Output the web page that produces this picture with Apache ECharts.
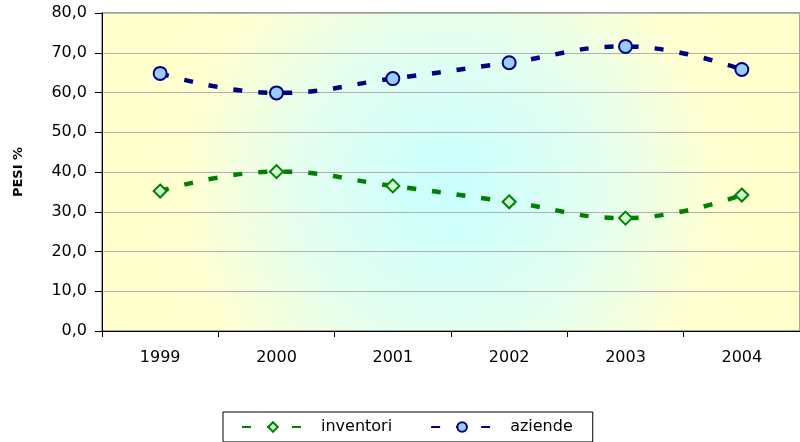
<!DOCTYPE html>
<html>
<head>
<meta charset="utf-8">
<script src="https://cdn.jsdelivr.net/npm/echarts@6/dist/echarts.min.js"></script>
<style>
    html, body { margin: 0; padding: 0; background: #fff; }
    #chart { width: 800px; height: 442px; }
</style>
</head>
<body>
<div id="chart"></div>
<script>
    // anni sull'asse x
    const years = ['1999', '2000', '2001', '2002', '2003', '2004'];
    // pesi percentuali
    const inventori = [35.2, 40.1, 36.5, 32.5, 28.4, 34.2];
    const aziende = [64.8, 59.9, 63.5, 67.5, 71.6, 65.8];

    const fontFam = 'DejaVu Sans';
    const chart = echarts.init(document.getElementById('chart'));

    const option = {
        animation: false,
        textStyle: { fontFamily: fontFam },
        grid: {
            left: 102,
            top: 13,
            width: 705,
            height: 318,
            show: true,
            borderColor: '#888',
            borderWidth: 1.5,
            backgroundColor: new echarts.graphic.RadialGradient(0.5, 0.55, 1.05, [
                { offset: 0, color: '#c8ffff' },
                { offset: 0.45, color: '#e4fff0' },
                { offset: 0.8, color: '#ffffd0' },
                { offset: 1, color: '#ffffcc' }
            ])
        },
        legend: {
            left: 223,
            top: 412,
            width: 370,
            padding: [7, 20, 7, 18],
            borderColor: '#000',
            borderWidth: 1,
            itemWidth: 62,
            itemHeight: 12,
            itemGap: 38,
            textStyle: { fontSize: 16, color: '#000', fontFamily: fontFam, padding: [0, 0, 0, 12] },
            data: ['inventori', 'aziende']
        },
        xAxis: {
            type: 'category',
            data: years,
            boundaryGap: true,
            axisLine: { lineStyle: { color: '#000', width: 1 } },
            axisTick: { show: true, length: 6, lineStyle: { color: '#000' } },
            axisLabel: { fontSize: 16, color: '#000', margin: 19 },
            splitLine: { show: false }
        },
        yAxis: {
            type: 'value',
            min: 0,
            max: 80,
            interval: 10,
            name: 'PESI %',
            nameLocation: 'middle',
            nameGap: 77,
            nameTextStyle: { fontSize: 13, fontWeight: 'bold', color: '#000' },
            axisLine: { show: true, lineStyle: { color: '#000', width: 1 } },
            axisTick: { show: true, length: 7, lineStyle: { color: '#000' } },
            axisLabel: {
                fontSize: 16,
                color: '#000',
                margin: 15,
                formatter: v => v.toFixed(1).replace('.', ',')
            },
            splitLine: { lineStyle: { color: '#b0b0b0', width: 1 } }
        },
        series: [
            {
                name: 'inventori',
                type: 'line',
                data: inventori,
                smooth: 0.45,
                symbol: 'diamond',
                symbolSize: 13,
                lineStyle: { color: '#008000', width: 4.5, type: [9, 16] },
                itemStyle: { color: '#ccffcc', borderColor: '#008000', borderWidth: 2 }
            },
            {
                name: 'aziende',
                type: 'line',
                data: aziende,
                smooth: 0.45,
                symbol: 'circle',
                symbolSize: 13,
                lineStyle: { color: '#000080', width: 4.5, type: [9, 16] },
                itemStyle: { color: '#99ccff', borderColor: '#000080', borderWidth: 2 }
            }
        ]
    };

    chart.setOption(option);
</script>
</body>
</html>
